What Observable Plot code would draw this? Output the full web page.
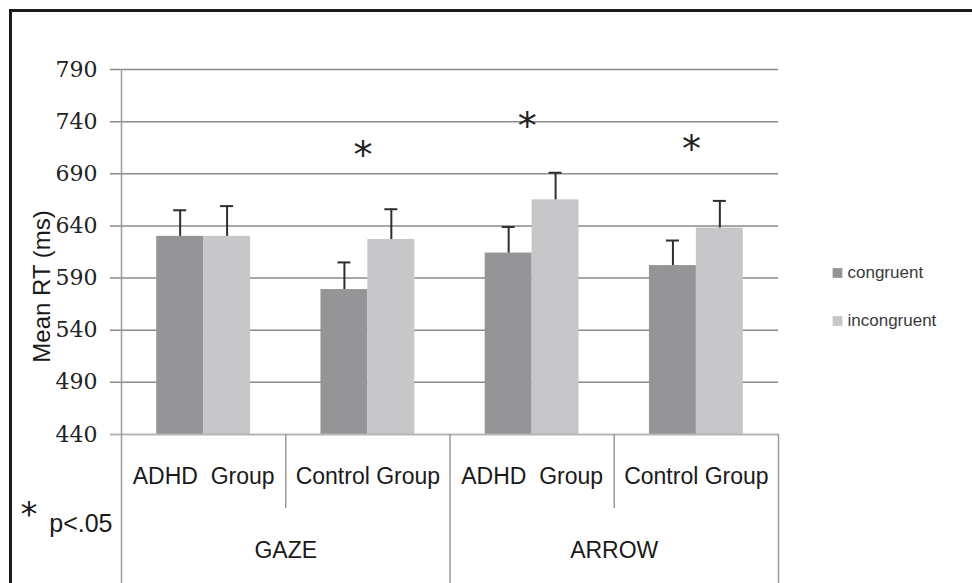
<!DOCTYPE html>
<html>
<head>
<meta charset="utf-8">
<script src="https://cdn.jsdelivr.net/npm/d3@7"></script>
<script src="https://cdn.jsdelivr.net/npm/@observablehq/plot@0.6"></script>
<style>
  html, body { margin: 0; padding: 0; background: #fff; }
  #wrap { position: relative; width: 972px; height: 583px; overflow: hidden; background: #fff; }
  #chart svg { display: block; }
  #chart svg text { white-space: pre; }
  #frame { position: absolute; left: 9px; top: 9px; right: -20px; bottom: -20px;
           border-top: 3px solid #1c1c1c; border-left: 3px solid #1c1c1c; pointer-events: none; }
</style>
</head>
<body>
<div id="wrap"><div id="chart"></div><div id="frame"></div></div>
<script>
// ---- data ----
const groups = ["ADHD  Group", "Control Group", "ADHD  Group", "Control Group"];
const cues = ["GAZE", "ARROW"];
const conditions = ["congruent", "incongruent"];
const congruentRT = [630, 579, 614, 602];
const incongruentRT = [630, 627, 665, 638];
const congruentErr = [25, 26, 25, 24];
const incongruentErr = [29, 29, 26, 26];
const starGroups = [1, 2, 3];          // groups marked with * (p<.05)
const starY = [696, 723, 701];         // baseline of each * in ms units
const yTicks = [440, 490, 540, 590, 640, 690, 740, 790];
const yTitle = "Mean RT (ms)";
const yTitleAt = 582;                  // vertical centre of the axis title, ms units
const barColors = ["#959597", "#c7c7c9"];

// ---- derived table ----
const gapWidth = 1.5; // Excel-style gap width (150%)
const barW = 1 / (conditions.length + gapWidth);
const rows = [];
groups.forEach((g, gi) => {
  [congruentRT, incongruentRT].forEach((arr, ci) => {
    const err = (ci === 0 ? congruentErr : incongruentErr)[gi];
    rows.push({gi, cond: conditions[ci], ci, value: arr[gi], err,
      x1: gi + (gapWidth / 2) * barW + ci * barW,
      x2: gi + (gapWidth / 2) * barW + (ci + 1) * barW});
  });
});
const stars = starGroups.map((gi, i) => ({gi, y: starY[i]}));
const floor = yTicks[0];
const center = d => (d.x1 + d.x2) / 2;
const sans = "Liberation Sans, Arial, sans-serif";

const marks = [
  // gridlines (+ left tick marks)
  Plot.ruleY(yTicks.slice(1), {stroke: "#8a8a8a", strokeWidth: 1.5, insetLeft: -11}),
  // bars
  Plot.rectY(rows, {x1: "x1", x2: "x2", y1: floor, y2: "value", fill: "cond"}),
  // bottom axis line
  Plot.ruleY([floor], {stroke: "#b5b5b5", strokeWidth: 2, insetLeft: -11}),
  // y axis line
  Plot.ruleX([0], {stroke: "#9a9a9a", strokeWidth: 1.5}),
  // category dividers below the axis
  Plot.ruleX([0, 2, 4], {x: d => d, y1: floor, y2: floor, insetBottom: -149, stroke: "#9a9a9a", strokeWidth: 1.5}),
  Plot.ruleX([1, 3], {x: d => d, y1: floor, y2: floor, insetBottom: -74, stroke: "#9a9a9a", strokeWidth: 1.5}),
  // error bars
  Plot.ruleX(rows, {x: center, y1: "value", y2: d => d.value + d.err, stroke: "#2e2e2e", strokeWidth: 2}),
  Plot.ruleY(rows, {y: d => d.value + d.err, x1: center, x2: center, insetLeft: -6.5, insetRight: -6.5, stroke: "#2e2e2e", strokeWidth: 2}),
  // significance stars
  Plot.text(stars, {x: d => d.gi + 0.5, y: "y", text: () => "*", dx: -5, lineAnchor: "bottom",
    fontFamily: "DejaVu Sans, sans-serif", fontSize: 38, fill: "#222"}),
  // y tick labels
  Plot.text(yTicks, {x: 0, y: d => d, text: d => String(d), textAnchor: "end", dx: -24,
    fontFamily: "DejaVu Serif, serif", fontSize: 22, fill: "#222"}),
  // y axis title
  Plot.text([yTitle], {x: 0, y: () => yTitleAt, text: d => d, rotate: -90, dx: -79,
    fontFamily: sans, fontSize: 24, fill: "#1a1a1a"}),
  // subgroup labels
  Plot.text(groups, {x: (d, i) => i + 0.5, y: floor, text: d => d, lineAnchor: "bottom", dy: 49,
    fontFamily: sans, fontSize: 23, fill: "#1a1a1a"}),
  // cue labels
  Plot.text(cues, {x: (d, i) => 2 * i + 1, y: floor, text: d => d, lineAnchor: "bottom", dy: 123,
    fontFamily: sans, fontSize: 23, fill: "#1a1a1a"}),
  // footnote
  Plot.text(["*"], {x: 0, y: floor, text: d => d, textAnchor: "end", dx: -84, dy: 91, lineAnchor: "bottom",
    fontFamily: "DejaVu Sans, sans-serif", fontSize: 34, fill: "#1a1a1a"}),
  Plot.text(["p<.05"], {x: 0, y: floor, text: d => d, textAnchor: "end", dx: -9, dy: 97.5, lineAnchor: "bottom",
    fontFamily: sans, fontSize: 25, fill: "#1a1a1a"}),
  // legend
  ...conditions.map((c, i) => Plot.dot([c], {frameAnchor: "right", dx: 59, dy: 21 + 48 * i,
    symbol: "square", r: 5.5, fill: d => d, stroke: null})),
  ...conditions.map((c, i) => Plot.text([c], {frameAnchor: "right", text: d => d, textAnchor: "start",
    dx: 69, dy: 21 + 48 * i, fontFamily: sans, fontSize: 17, fill: "#3a3a3a"}))
];

const chart = Plot.plot({
  width: 972, height: 583,
  marginLeft: 121, marginRight: 194, marginTop: 69, marginBottom: 149,
  x: {domain: [0, groups.length], axis: null},
  y: {domain: [yTicks[0], yTicks[yTicks.length - 1]], axis: null},
  color: {domain: conditions, range: barColors},
  style: {fontFamily: sans, fontSize: "23px", color: "#1a1a1a", background: "transparent", overflow: "visible"},
  marks
});
document.getElementById("chart").appendChild(chart);
</script>
</body>
</html>
